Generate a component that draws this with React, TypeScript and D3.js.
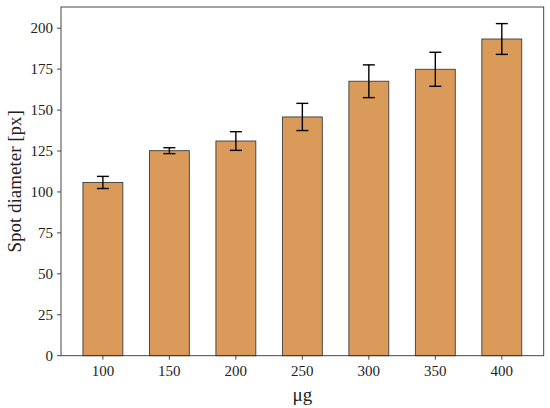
import * as d3 from "d3";

const doses = ["100", "150", "200", "250", "300", "350", "400"];
const diameters = [105.8, 125.2, 131.1, 145.8, 167.6, 174.9, 193.4];
const errors = [3.7, 1.8, 5.7, 8.3, 10.0, 10.4, 9.4];
const yTicks = [0, 25, 50, 75, 100, 125, 150, 175, 200];

const W = 550;
const H = 408;
const M = { top: 7, right: 6.3, bottom: 52.3, left: 61 };
const BAR_W = 0.6;
const FONT = "'Liberation Serif', 'DejaVu Serif', serif";

export default function App() {
  const n = doses.length;
  // matplotlib-like 5% margins around the bars
  const lo = -BAR_W / 2;
  const hi = n - 1 + BAR_W / 2;
  const pad = (hi - lo) * 0.05;
  const x = d3
    .scaleLinear()
    .domain([lo - pad, hi + pad])
    .range([M.left, W - M.right]);

  const yMax = d3.max(diameters, (d, i) => d + errors[i])! * 1.05;
  const y = d3
    .scaleLinear()
    .domain([0, yMax])
    .range([H - M.bottom, M.top]);

  const bw = x(BAR_W) - x(0);
  const cap = 6;
  const x0 = M.left;
  const x1 = W - M.right;
  const y0 = H - M.bottom;

  return (
    <svg
      width={W}
      height={H}
      style={{ position: "absolute", left: 0, top: 0, background: "#fff" }}
      fontFamily={FONT}
    >
      {/* bars */}
      {diameters.map((d, i) => (
        <rect
          key={"b" + i}
          x={x(i) - bw / 2}
          y={y(d)}
          width={bw}
          height={y(0) - y(d)}
          fill="#da9a59"
          stroke="#3c3c3c"
          strokeWidth={0.9}
        />
      ))}

      {/* error bars */}
      {diameters.map((d, i) => {
        const cx = x(i);
        const t = y(d + errors[i]);
        const b = y(d - errors[i]);
        return (
          <g key={"e" + i} stroke="#000" strokeWidth={1.4}>
            <line x1={cx} x2={cx} y1={t} y2={b} />
            <line x1={cx - cap} x2={cx + cap} y1={t} y2={t} />
            <line x1={cx - cap} x2={cx + cap} y1={b} y2={b} />
          </g>
        );
      })}

      {/* frame */}
      <rect
        x={x0}
        y={M.top}
        width={x1 - x0}
        height={y0 - M.top}
        fill="none"
        stroke="#333"
        strokeWidth={0.9}
      />

      {/* y axis */}
      {yTicks.map((t) => (
        <g key={"y" + t}>
          <line x1={x0 - 4} x2={x0} y1={y(t)} y2={y(t)} stroke="#333" strokeWidth={0.9} />
          <text
            x={x0 - 8}
            y={y(t)}
            dy="0.34em"
            textAnchor="end"
            fontSize={15}
            fill="#222"
          >
            {t}
          </text>
        </g>
      ))}

      {/* x axis */}
      {doses.map((c, i) => (
        <g key={"x" + c}>
          <line x1={x(i)} x2={x(i)} y1={y0} y2={y0 + 4} stroke="#333" strokeWidth={0.9} />
          <text x={x(i)} y={y0 + 20} textAnchor="middle" fontSize={15} fill="#222">
            {c}
          </text>
        </g>
      ))}

      <text
        x={(x0 + x1) / 2}
        y={401}
        textAnchor="middle"
        fontSize={19}
        fill="#222"
      >
        μg
      </text>
      <text
        transform={`translate(21,${(M.top + y0) / 2}) rotate(-90)`}
        textAnchor="middle"
        fontSize={19}
        fill="#222"
      >
        Spot diameter [px]
      </text>
    </svg>
  );
}
